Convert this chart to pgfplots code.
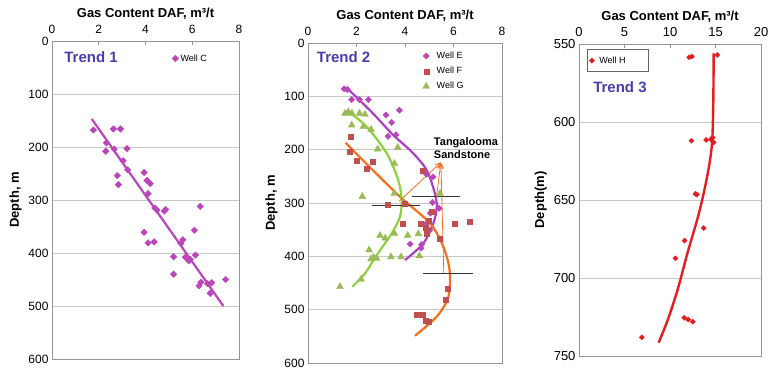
\documentclass[border=0pt]{standalone}
\usepackage{fontspec}
\setmainfont{Liberation Sans}
\usepackage{pgfplots}
\pgfplotsset{compat=1.18}
\usetikzlibrary{arrows.meta}
\definecolor{framec}{RGB}{150,150,150}
\definecolor{gridc}{RGB}{200,200,200}
\definecolor{trendc}{RGB}{72,62,172}
\definecolor{magc}{RGB}{186,70,186}
\definecolor{purpc}{RGB}{172,64,196}
\definecolor{sqc}{RGB}{192,80,77}
\definecolor{orc}{RGB}{245,110,25}
\definecolor{trc}{RGB}{155,187,89}
\definecolor{grc}{RGB}{140,210,60}
\definecolor{redc}{RGB}{228,30,30}
\pgfplotsset{panel/.style={
  scale only axis, y dir=reverse,
  axis line style={draw=framec, line width=0.8pt},
  xtick pos=right, xticklabel pos=right,
  tick align=inside, major tick length=4pt,
  xtick style={draw=framec, line width=0.8pt},
  ytick style={draw=none},
  ymajorgrids, grid style={draw=gridc, line width=0.8pt},
  tick label style={font=\fontsize{12}{12}\selectfont},
  xticklabel style={anchor=base, yshift=7.7pt},
  /pgf/number format/assume math mode=true,
  xlabel={Gas Content DAF, m³/t},
  xlabel style={font=\bfseries\fontsize{13}{13}\selectfont, at={(axis description cs:0.5,1)}, anchor=base, yshift=23.7pt},
  ylabel style={font=\bfseries\fontsize{13}{13}\selectfont},
  legend cell align=left,
}}
\begin{document}
\begin{tikzpicture}
\useasboundingbox (0,0) rectangle (769pt,-369pt);
% Panel 1
\begin{axis}[panel, at={(52pt,-359pt)}, anchor=south west,
  width=187pt, height=318pt, xmin=0, xmax=8, ymin=0, ymax=600,
  xtick={0,2,4,6,8}, ytick={0,100,...,600}, ylabel={Depth, m},
  legend style={draw=none, fill=none, at={(0.625,0.945)}, anchor=west,
    font=\fontsize{9}{9}\selectfont}]
\addplot[only marks, mark=square*, mark size=2.3pt, mark options={rotate=45, draw=magc, fill=magc}] coordinates {
(1.77,168)(2.33,192)(2.30,208)(2.63,166)(2.93,166)(2.66,204)(3.21,203)(3.04,226)(3.24,243)(2.79,254)(2.84,271)(3.94,248)(4.06,263)(4.20,269)(4.11,288)(4.40,315)(4.49,319)(4.80,321)(4.86,318)(6.34,312)(3.94,361)(4.11,381)(4.37,379)(5.51,382)(5.60,375)(6.09,357)(5.20,407)(5.71,408)(5.86,415)(6.14,404)(5.91,412)(5.20,440)(6.29,462)(6.37,455)(6.66,458)(6.83,456)(6.77,476)(7.43,450)};
\addlegendentry{Well C}
\addplot[magc, line width=2.2pt, forget plot] coordinates {(1.70,147)(7.33,500)};
\node[text=trendc, font=\bfseries\fontsize{15}{15}\selectfont] at (axis cs:1.67,30) {Trend 1};
\end{axis}
% Panel 2
\begin{axis}[panel, at={(308pt,-363pt)}, anchor=south west,
  width=194pt, height=320pt, xmin=0, xmax=8, ymin=0, ymax=600,
  xtick={0,2,4,6,8}, ytick={0,100,...,600}, ylabel={Depth, m},
  legend style={draw=none, fill=none, at={(0.575,0.985)}, anchor=north west,
    font=\fontsize{9}{9}\selectfont, row sep=3.2pt}]
\addplot[only marks, mark=square*, mark size=2.2pt, mark options={rotate=45, draw=magc, fill=magc}] coordinates {
(1.49,86)(1.62,87)(1.80,106)(2.12,106)(2.49,106)(3.22,135)(3.77,126)(3.45,149)(3.30,175)(3.63,172)(4.89,246)(5.16,251)(5.13,299)(5.41,310)(5.05,319)(4.89,338)(5.02,351)(4.21,377)(4.66,385)(4.69,378)};
\addlegendentry{\hspace*{5pt}Well E}
\addplot[only marks, mark=square*, mark size=2.5pt, mark options={draw=sqc, fill=sqc}] coordinates {
(1.76,176)(1.70,204)(2.00,221)(2.42,235)(2.67,223)(4.73,239)(3.30,304)(3.97,302)(3.89,339)(4.66,339)(4.84,346)(4.97,333)(5.12,317)(4.88,358)(5.42,366)(6.03,338)(6.66,335)(5.76,461)(5.69,481)(4.49,509)(4.75,509)(4.87,521)(4.98,523)};
\addlegendentry{\hspace*{5pt}Well F}
\addplot[only marks, mark=triangle*, mark size=4pt, mark options={draw=trc, fill=trc}] coordinates {
(1.53,132)(1.66,129)(1.81,132)(2.12,132)(2.35,134)(1.80,154)(2.28,157)(2.60,162)(2.87,199)(3.70,196)(3.56,226)(2.24,288)(3.56,282)(5.44,282)(2.97,361)(3.18,366)(3.56,357)(4.11,361)(4.55,358)(2.52,388)(2.70,402)(2.60,405)(2.83,404)(3.42,401)(3.84,401)(4.59,399)(2.19,443)(1.32,457)};
\addlegendentry{\hspace*{5pt}Well G}
\addplot[purpc, line width=2.2pt, smooth, forget plot] coordinates {(1.45,84)(1.62,86)(1.87,96)(2.7,133)(3.5,172)(4.3,205)(4.89,238)(5.22,280)(5.31,307)(5.17,338)(4.75,376)(4.0,407)};
\addplot[orc, line width=2.2pt, smooth, forget plot] coordinates {(1.55,187)(2.42,227)(3.79,288)(5.03,338)(5.58,382)(5.84,426)(5.79,476)(5.31,513)(4.41,549)};
\addplot[grc, line width=2.2pt, smooth, forget plot] coordinates {(1.65,128)(2.42,157)(3.25,207)(3.72,257)(3.86,294)(3.79,326)(3.45,357)(2.83,398)(2.35,432)(1.83,457)};
\addplot[black!80, line width=0.9pt, forget plot] coordinates {(4.28,288)(6.27,288)};
\addplot[black!80, line width=0.9pt, forget plot] coordinates {(2.62,304)(4.62,304)};
\addplot[black!80, line width=0.9pt, forget plot] coordinates {(4.75,432)(6.79,432)};
\addplot[orc, line width=0.8pt, -{Straight Barb[length=5pt,width=5pt]}, forget plot] coordinates {(3.75,297)(5.48,224)};
\addplot[orc, line width=0.8pt, -{Straight Barb[length=5pt,width=5pt]}, forget plot] coordinates {(5.30,288)(5.48,224)};
\addplot[orc, line width=0.8pt, -{Straight Barb[length=5pt,width=5pt]}, forget plot] coordinates {(5.60,431)(5.48,224)};
\node[text=trendc, font=\bfseries\fontsize{15}{15}\selectfont] at (axis cs:1.47,26) {Trend 2};
\node[anchor=west, align=left, font=\bfseries\fontsize{11}{12.5}\selectfont] at (axis cs:5.05,197) {Tangalooma\\Sandstone};
\end{axis}
% Panel 3
\begin{axis}[panel, at={(579pt,-356pt)}, anchor=south west,
  width=182pt, height=312pt, xmin=0, xmax=20, ymin=550, ymax=750,
  xtick={0,5,...,20}, ytick={550,600,...,750}, ylabel={Depth(m)},
  tick label style={font=\fontsize{13}{13}\selectfont},
  legend style={draw=black!60, line width=0.6pt, fill=white, at={(0.044,0.983)}, anchor=north west,
    font=\fontsize{9}{9}\selectfont, inner xsep=2pt, inner ysep=5pt}]
\addplot[only marks, mark=square*, mark size=1.8pt, mark options={rotate=45, draw=redc, fill=redc}] coordinates {
(12.1,558.5)(12.4,558)(15.2,557)(12.35,612)(13.97,611.5)(14.69,610)(14.8,613)(14.5,611)(12.8,646)(12.96,646.6)(13.7,668)(11.6,676)(10.6,687.4)(11.56,725.5)(12.0,726.6)(12.5,728)(6.9,738)};
\addlegendentry{\makebox[48pt][l]{\hspace*{3pt}Well H}}
\addplot[redc, line width=2.4pt, smooth, forget plot] coordinates {(14.8,556)(14.75,590)(14.6,615)(14.08,635)(13.18,658.5)(11.92,684)(10.84,707.4)(9.77,726.6)(8.75,741.5)};
\node[text=trendc, font=\bfseries\fontsize{15}{15}\selectfont] at (axis cs:4.5,577.5) {Trend 3};
\end{axis}
\end{tikzpicture}
\end{document}
